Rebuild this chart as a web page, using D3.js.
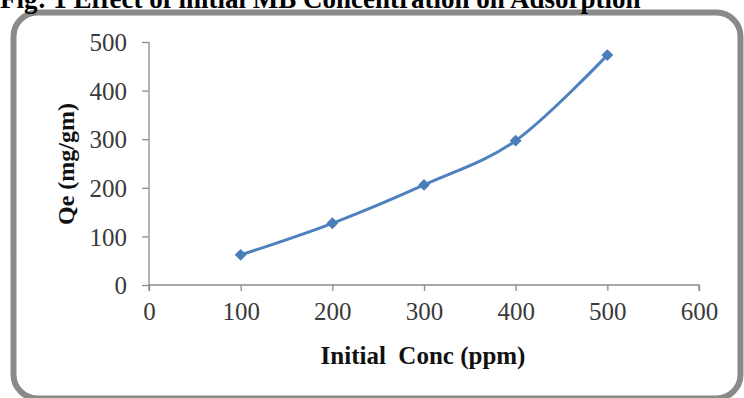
<!DOCTYPE html>
<html>
<head>
<meta charset="utf-8">
<script src="https://cdn.jsdelivr.net/npm/d3@7"></script>
<style>
  body { margin: 0; background: #fff; }
  svg { display: block; }
</style>
</head>
<body>
<div id="chart"></div>
<script>
const conc = [100, 200, 300, 400, 500];
const qe = [62, 127, 206, 297, 473];
const xTicks = [0, 100, 200, 300, 400, 500, 600];
const yTicks = [0, 100, 200, 300, 400, 500];

const width = 744;
const height = 398;
const serif = "'Liberation Serif', 'Times New Roman', serif";

const svg = d3.select("#chart")
    .append("svg")
    .attr("width", width)
    .attr("height", height);

// outer frame
svg.append("rect")
    .attr("x", 13.5)
    .attr("y", 12.5)
    .attr("width", 727)
    .attr("height", 386)
    .attr("rx", 24)
    .attr("fill", "#fff")
    .attr("stroke", "#8a8a8a")
    .attr("stroke-width", 6);

// title, cut off at top like the source
svg.append("text")
    .attr("x", 0)
    .attr("y", 8)
    .attr("font-family", serif)
    .attr("font-weight", "bold")
    .attr("font-size", 27)
    .attr("fill", "#000")
    .text("Fig: 1 Effect of initial MB Concentration on Adsorption");

const x = d3.scaleLinear()
    .domain([0, 600])
    .range([149, 699]);

const y = d3.scaleLinear()
    .domain([0, 500])
    .range([285, 42]);

const xAxis = svg.append("g")
    .attr("transform", `translate(0, ${y(0)})`)
    .call(d3.axisBottom(x).tickValues(xTicks).tickSize(6).tickPadding(11));

const yAxis = svg.append("g")
    .attr("transform", `translate(${x(0)}, 0)`)
    .call(d3.axisLeft(y).tickValues(yTicks).tickSize(7).tickPadding(15));

[xAxis, yAxis].forEach(ax => {
    ax.select(".domain").attr("stroke", "#8c8c8c").attr("stroke-width", 1.3);
    ax.selectAll(".tick line").attr("stroke", "#8c8c8c").attr("stroke-width", 1.3);
    ax.selectAll(".tick text")
        .attr("font-family", serif)
        .attr("font-size", 25)
        .attr("fill", "#3a3a3a");
});
xAxis.select(".domain").attr("d", `M${x(0)},6V0H${x(600)}V6`);
yAxis.select(".domain").attr("d", `M0,${y(500)}V${y(0)}`);
yAxis.selectAll(".tick text").attr("dy", "0.35em");

// axis titles
svg.append("text")
    .attr("x", 423)
    .attr("y", 364)
    .attr("text-anchor", "middle")
    .attr("font-family", serif)
    .attr("font-weight", "bold")
    .attr("font-size", 25)
    .attr("fill", "#111")
    .attr("xml:space", "preserve")
    .text("Initial  Conc (ppm)");

svg.append("text")
    .attr("transform", "translate(74, 164) rotate(-90)")
    .attr("text-anchor", "middle")
    .attr("font-family", serif)
    .attr("font-weight", "bold")
    .attr("font-size", 24)
    .attr("fill", "#111")
    .text("Qe (mg/gm)");

const pts = conc.map((c, i) => [c, qe[i]]);

svg.append("path")
    .datum(pts)
    .attr("fill", "none")
    .attr("stroke", "#4f81bd")
    .attr("stroke-width", 3)
    .attr("d", d3.line()
        .x(d => x(d[0]))
        .y(d => y(d[1]))
        .curve(d3.curveCatmullRom.alpha(0)));

svg.selectAll(".marker")
    .data(pts)
    .join("path")
    .attr("class", "marker")
    .attr("transform", d => `translate(${x(d[0])}, ${y(d[1])})`)
    .attr("d", d3.symbol(d3.symbolDiamond2, 90)())
    .attr("fill", "#4a7ebb");
</script>
</body>
</html>
